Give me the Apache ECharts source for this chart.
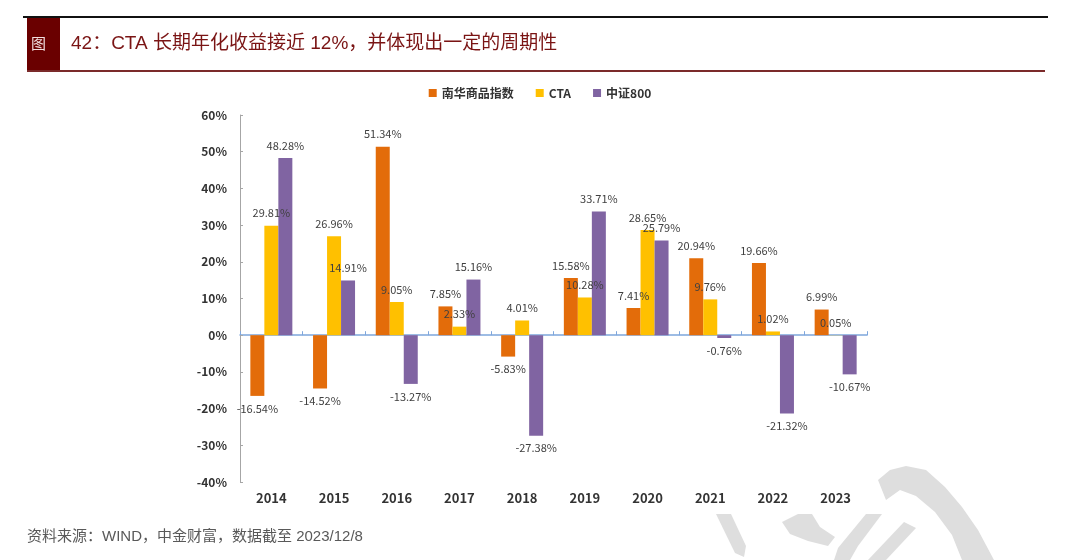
<!DOCTYPE html>
<html>
<head>
<meta charset="utf-8">
<script src="https://cdn.jsdelivr.net/npm/echarts@6/dist/echarts.min.js"></script>
<style>
html,body{margin:0;padding:0;background:#fff;}
#chart{width:1080px;height:560px;}
</style>
</head>
<body>
<div id="chart"></div>
<script>
const categories = ['2014','2015','2016','2017','2018','2019','2020','2021','2022','2023'];
const nanhua = [-16.54, -14.52, 51.34, 7.85, -5.83, 15.58, 7.41, 20.94, 19.66, 6.99];
const cta = [29.81, 26.96, 9.05, 2.33, 4.01, 10.28, 28.65, 9.76, 1.02, 0.05];
const csi800 = [48.28, 14.91, -13.27, 15.16, -27.38, 33.71, 25.79, -0.76, -21.32, -10.67];
const seriesNames = ['南华商品指数', 'CTA', '中证800'];
const titleText = '42：CTA 长期年化收益接近 12%，并体现出一定的周期性';
const sourceText = '资料来源：WIND，中金财富，数据截至 2023/12/8';

const FONT = '"Noto Sans CJK SC", "Open Sans", sans-serif';
const chart = echarts.init(document.getElementById('chart'));

function mkData(arr) {
  return arr.map(v => ({
    value: v,
    label: { position: v < 0 ? 'bottom' : 'top' }
  }));
}
const labelCfg = {
  show: true,
  distance: 7,
  fontFamily: FONT,
  fontSize: 11,
  color: '#404040',
  formatter: p => p.value.toFixed(2) + '%'
};
const WM = '#dedede';

chart.setOption({
  animation: false,
  backgroundColor: '#fff',
  graphic: [
    // faint watermark (decorative)
    { type: 'polygon', z: -10, shape: { points: [[878,480],[890,470],[906,466],[926,470],[945,487],[962,507],[978,530],[994,560],[962,560],[952,535],[935,512],[916,496],[900,490],[886,500]] }, style: { fill: WM } },
    { type: 'polygon', z: -10, shape: { points: [[716,514],[731,514],[746,546],[744,557],[735,553]] }, style: { fill: WM } },
    { type: 'polygon', z: -10, shape: { points: [[782,522],[798,514],[812,514],[820,527],[835,537],[828,546],[808,541],[790,534]] }, style: { fill: WM } },
    { type: 'polygon', z: -10, shape: { points: [[838,548],[866,514],[882,514],[858,546],[850,560],[834,560]] }, style: { fill: WM } },
    { type: 'polygon', z: -10, shape: { points: [[868,560],[904,522],[916,528],[886,560]] }, style: { fill: WM } },
    // title bar
    { type: 'line', shape: { x1: 23, y1: 17, x2: 1048, y2: 17 }, style: { stroke: '#111', lineWidth: 2 } },
    { type: 'rect', shape: { x: 27, y: 18, width: 33, height: 53 }, style: { fill: '#6a0000' } },
    { type: 'text', left: 31, top: 36, style: { text: '图', fill: '#f2dede', font: '15px "Noto Sans CJK SC"' } },
    { type: 'text', left: 71, top: 34, style: { text: titleText, fill: '#7a1414', font: '19px "Liberation Sans", "Noto Sans CJK SC"' } },
    { type: 'line', shape: { x1: 27, y1: 71, x2: 1045, y2: 71 }, style: { stroke: '#7b2a2a', lineWidth: 2 } },
    { type: 'text', left: 27, top: 529, style: { text: sourceText, fill: '#595959', font: '15px "Liberation Sans", "Noto Sans CJK SC"' } }
  ],
  legend: {
    top: 82,
    left: 'center',
    itemWidth: 8,
    itemHeight: 8,
    itemGap: 22,
    icon: 'rect',
    textStyle: { fontFamily: FONT, fontSize: 12, color: '#333', fontWeight: 'bold' },
    data: seriesNames
  },
  grid: { left: 240, right: 213, top: 115, bottom: 78 },
  xAxis: {
    type: 'category',
    data: categories,
    axisLine: { onZero: true, lineStyle: { color: '#7ea6dc', width: 1.5 } },
    axisTick: { show: true, inside: true, length: 4, lineStyle: { color: '#7ea6dc' } },
    axisLabel: { position: 'bottom', fontFamily: FONT, fontSize: 13, fontWeight: 'bold', color: '#333', margin: 10 }
  },
  yAxis: {
    type: 'value',
    min: -40,
    max: 60,
    interval: 10,
    splitLine: { show: false },
    axisLine: { show: true, lineStyle: { color: '#a6a6a6' } },
    axisTick: { show: true, inside: true, length: 3, lineStyle: { color: '#a6a6a6' } },
    axisLabel: { fontFamily: FONT, fontSize: 12, fontWeight: 'bold', color: '#333', margin: 13, formatter: v => v + '%' }
  },
  series: [
    { name: seriesNames[0], type: 'bar', data: mkData(nanhua), barWidth: 14, barGap: '0%', itemStyle: { color: '#e36c0a' }, label: labelCfg },
    { name: seriesNames[1], type: 'bar', data: mkData(cta), barWidth: 14, barGap: '0%', itemStyle: { color: '#ffc000' }, label: labelCfg },
    { name: seriesNames[2], type: 'bar', data: mkData(csi800), barWidth: 14, barGap: '0%', itemStyle: { color: '#8064a2' }, label: labelCfg }
  ]
});
</script>
</body>
</html>
